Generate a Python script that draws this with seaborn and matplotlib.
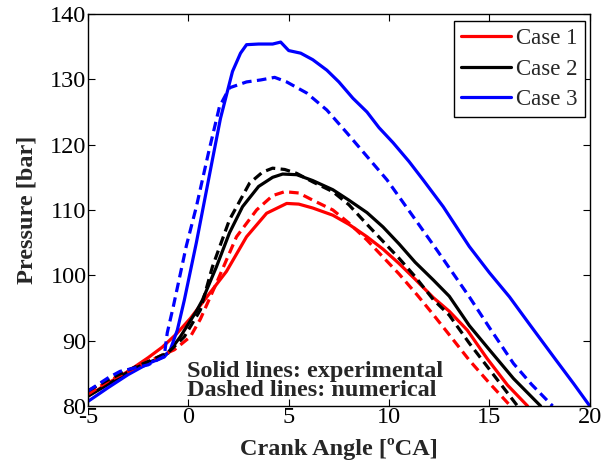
import numpy as np
import pandas as pd
import matplotlib
matplotlib.use("Agg")
import matplotlib.pyplot as plt
import seaborn as sns

# ---- data ----
c1_exp_x = [-5, -4, -3, -2, -1.3, -0.6, 0.1, 1.0, 1.9, 2.9, 3.9, 4.9, 5.5, 6.2, 7.2, 8.0, 8.9, 9.7, 10.5, 11.3, 12.2, 13.0, 13.9, 14.9, 15.9, 16.9]
c1_exp_y = [81.5, 83.5, 85.3, 87.4, 89.0, 91.0, 93.4, 97.0, 100.6, 105.9, 109.5, 111.0, 110.9, 110.3, 109.2, 107.8, 105.9, 104.0, 101.8, 99.4, 96.6, 94.5, 91.6, 87.2, 83.2, 80.0]

c1_num_x = [-5, -4, -3, -2, -1.3, -0.7, 0.1, 0.6, 1.4, 2.4, 3.4, 4.2, 4.8, 5.5, 6.2, 7.2, 8.0, 8.9, 9.7, 10.5, 11.4, 12.2, 13.0, 14.0, 15.0, 16.05]
c1_num_y = [81.8, 83.8, 85.3, 86.8, 87.8, 88.6, 90.6, 93.3, 98.8, 105.9, 110.0, 112.2, 112.8, 112.6, 111.5, 110.0, 108.0, 105.4, 102.8, 100.2, 97.0, 94.0, 90.9, 87.0, 83.5, 80.0]

c2_exp_x = [-5, -4, -3, -2.5, -1.7, -1.0, -0.4, 0.4, 0.7, 1.4, 2.05, 2.7, 3.5, 4.2, 4.7, 5.4, 6.2, 7.2, 8.0, 8.9, 9.7, 10.5, 11.3, 12.2, 13.0, 14.0, 15.0, 16.2, 17.55]
c2_exp_y = [81.5, 83.3, 85.2, 86.0, 87.0, 88.1, 90.6, 94.5, 96.2, 101.3, 106.5, 110.5, 113.6, 115.0, 115.5, 115.4, 114.5, 113.1, 111.5, 109.6, 107.4, 104.8, 102.0, 99.3, 96.8, 92.3, 88.6, 84.2, 80.0]

c2_num_x = [-5, -4, -3, -2, -1.0, -0.2, 0.6, 1.2, 2.05, 3.05, 3.7, 4.2, 4.8, 5.4, 6.2, 7.2, 8.0, 8.9, 9.7, 10.5, 11.3, 12.2, 13.0, 14.0, 15.0, 16.4]
c2_num_y = [82.3, 84.0, 85.5, 86.8, 88.2, 90.6, 94.7, 101.3, 108.5, 114.1, 115.8, 116.4, 116.2, 115.6, 114.3, 112.8, 110.8, 107.8, 105.2, 102.6, 99.8, 96.3, 93.9, 89.6, 85.6, 80.0]

c3_exp_x = [-5, -4, -3, -2, -1.2, -0.9, -0.55, -0.2, 0.4, 1.2, 1.6, 2.2, 2.6, 2.9, 3.5, 4.2, 4.6, 5.0, 5.6, 6.2, 6.9, 7.5, 8.2, 8.9, 9.5, 10.2, 11.0, 11.7, 12.7, 14.0, 15.0, 16.0, 17.0, 18.3, 19.2, 20.0]
c3_exp_y = [80.7, 82.8, 84.8, 86.5, 87.5, 88.6, 91.6, 96.2, 105.0, 117.7, 124.0, 131.2, 134.0, 135.3, 135.4, 135.4, 135.7, 134.4, 134.0, 133.0, 131.4, 129.6, 127.1, 125.0, 122.6, 120.3, 117.4, 114.6, 110.5, 104.4, 100.4, 96.7, 92.5, 87.1, 83.4, 80.0]

c3_num_x = [-5, -4, -3.4, -2.0, -1.2, -1.05, -0.75, -0.1, 0.4, 1.0, 1.55, 2.05, 2.9, 3.6, 4.3, 4.9, 5.9, 6.9, 7.9, 8.9, 9.9, 11.2, 12.4, 14.0, 15.0, 16.2, 17.1, 18.15]
c3_num_y = [82.3, 84.3, 85.3, 86.3, 87.6, 91.2, 95.2, 104.5, 110.5, 118.7, 125.8, 128.7, 129.6, 129.9, 130.3, 129.6, 127.9, 125.3, 121.8, 118.2, 114.6, 109.0, 103.8, 96.7, 92.0, 86.5, 83.3, 80.0]

case_labels = ["Case 1", "Case 2", "Case 3"]
case_colors = ["#ff0000", "#000000", "#0000ff"]

xticks = [-5, 0, 5, 10, 15, 20]
yticks = [80, 90, 100, 110, 120, 130, 140]

note_lines = ["Solid lines: experimental", "Dashed lines: numerical"]

# ---- style ----
sns.set_theme(style="ticks")
plt.rcParams["font.family"] = ["Liberation Serif", "DejaVu Serif"]

fig = plt.figure(figsize=(6.08, 4.66), dpi=100)
ax = fig.add_axes([0.1447, 0.1288, 0.8253, 0.8412])

exp_sets = [(c1_exp_x, c1_exp_y), (c2_exp_x, c2_exp_y), (c3_exp_x, c3_exp_y)]
num_sets = [(c1_num_x, c1_num_y), (c2_num_x, c2_num_y), (c3_num_x, c3_num_y)]

lw = 2.3
for (xs, ys), lab, col in zip(exp_sets, case_labels, case_colors):
    df = pd.DataFrame({"x": xs, "y": ys})
    sns.lineplot(data=df, x="x", y="y", ax=ax, color=col, linewidth=lw,
                 sort=False, estimator=None, label=lab)
for (xs, ys), col in zip(num_sets, case_colors):
    df = pd.DataFrame({"x": xs, "y": ys})
    sns.lineplot(data=df, x="x", y="y", ax=ax, color=col, linewidth=lw,
                 sort=False, estimator=None, linestyle=(0, (3.0, 1.7)))

ax.set_xlim(-5, 20)
ax.set_ylim(80, 140)
ax.set_xticks(xticks)
ax.set_yticks(yticks)
ax.set_xticklabels([str(t) for t in xticks])
ax.set_yticklabels([str(t) for t in yticks])
ax.tick_params(direction="in", length=5, width=0.8, labelsize=17.5,
               top=True, right=True, colors="black", pad=1)
for s in ax.spines.values():
    s.set_linewidth(1.0)
    s.set_color("black")

ax.set_xlabel("Crank Angle [ºCA]", fontsize=17.5, fontweight="bold", labelpad=7)
ax.set_ylabel("Pressure [bar]", fontsize=17.5, fontweight="bold", labelpad=9)

ax.text(-0.05, 84.45, note_lines[0], fontsize=17.5, fontweight="bold",
        ha="left", va="baseline")
ax.text(-0.05, 81.55, note_lines[1], fontsize=17.5, fontweight="bold",
        ha="left", va="baseline")

h, l = ax.get_legend_handles_labels()
leg = ax.legend(h[:3], l[:3], loc="upper right", bbox_to_anchor=(0.99, 0.981),
                fontsize=16.5, frameon=True,
                fancybox=False, edgecolor="black", framealpha=1,
                handlelength=2.15, handletextpad=0.25, borderpad=0.3,
                labelspacing=0.4, borderaxespad=0.0)
leg.get_frame().set_linewidth(1.0)

fig.savefig("out.png", dpi=100)
